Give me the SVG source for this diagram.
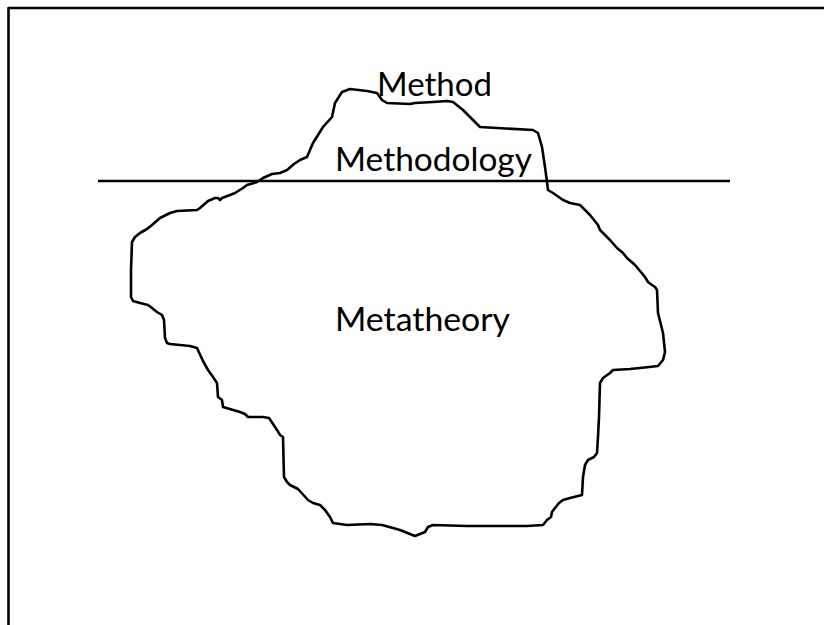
<svg xmlns="http://www.w3.org/2000/svg" width="824" height="625" viewBox="0 0 824 625">
<style>
.ln{fill:none;stroke:#000;stroke-width:2.6;stroke-linejoin:round;stroke-linecap:butt}
.lbl{font-family:Lato,"Open Sans","Liberation Sans",sans-serif;font-size:32px;fill:#000}
</style>
<rect x="0" y="0" width="824" height="625" fill="#fff"/>
<g id="frame">
<path class="ln" d="M8.5,625 L8.5,8 L824,8"/>
</g>
<g id="iceberg">
<path class="ln" d="M300,160 L307,157 L313,143 L323,127 L332,117 L335,103 L342,92 L350,89 L367,91 L377,93 L382,100 L387,103 L410,104 L415,103 L433,102 L447,101 L453,102 L463,110 L480,127 L497,128 L533,130 L538,133 L542,147 L545,167 L547,182 L548,190 L553,193 L563,200 L570,203 L580,205 L590,215 L598,225 L600,230 L610,240 L617,248 L623,253 L627,258 L635,265 L645,277 L648,282 L652,285 L655,287 L657,290 L658,313 L663,333 L665,352 L663,360 L658,366 L640,368 L630,369 L613,370 L610,373 L603,378 L600,383 L599,417 L598,437 L597,453 L594,457 L588,460 L585,465 L583,477 L582,495 L570,498 L563,500 L559,503 L555,508 L552,512 L551,517 L547,520 L543,525 L527,526 L500,526 L467,526 L433,525 L428,527 L425,532 L420,534 L415,536 L400,530 L393,528 L382,525 L370,524 L347,525 L333,523 L330,517 L325,510 L320,505 L313,503 L308,500 L298,489 L290,485 L287,482 L284,477 L283,437 L280,435 L277,430 L269,418 L263,417 L248,417 L245,414 L240,412 L223,407 L222,400 L218,397 L217,383 L213,377 L208,370 L203,361 L197,348 L190,346 L170,344 L167,343 L165,338 L164,320 L162,315 L157,312 L152,308 L148,305 L140,303 L133,301 L131,297 L131,270 L132,242 L135,237 L140,233 L147,229 L152,225 L160,218 L170,213 L177,211 L197,210 L200,208 L208,201 L215,198 L218,198 L220,200 L222,198 L230,195 L235,193 L243,188 L247,185 L257,182 L263,178 L272,174 L280,173 L287,170 L294,164 Z"/>
</g>
<g id="waterline">
<path class="ln" d="M98,181 L730,181"/>
</g>
<g id="labels">
<text id="method" class="lbl" x="377" y="96" textLength="115" lengthAdjust="spacingAndGlyphs">Method</text>
<text id="methodology" class="lbl" x="335" y="171" textLength="197" lengthAdjust="spacingAndGlyphs">Methodology</text>
<text id="metatheory" class="lbl" x="335" y="331" textLength="175" lengthAdjust="spacingAndGlyphs">Metatheory</text>
</g>
</svg>
